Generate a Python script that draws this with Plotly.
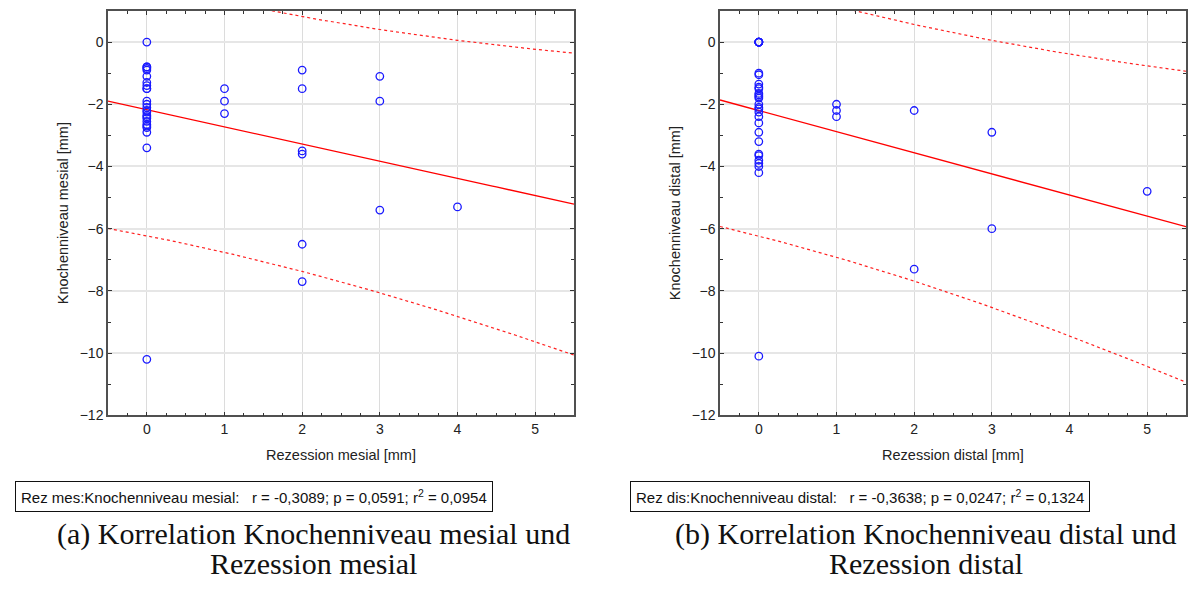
import numpy as np
import plotly.graph_objects as go

# ---------------- data ----------------
# (a) mesial
mes_x0_vals = [0, -0.8, -0.8, -0.85, -0.9, -1.1, -1.3, -1.4, -1.5, -1.5,
               -1.9, -2.0, -2.1, -2.2, -2.25, -2.35, -2.4, -2.45, -2.55, -2.65,
               -2.7, -2.75, -2.9, -3.4, -10.2]
mes_x1_vals = [-1.5, -1.9, -2.3]
mes_x2_vals = [-0.9, -1.5, -3.5, -3.6, -6.5, -7.7]
mes_x3_vals = [-1.1, -1.9, -5.4]
mes_x4_vals = [-5.3]

# (b) distal
dis_x0_vals = [0, 0, 0, 0, 0, 0, -1.0, -1.05, -1.35, -1.45, -1.5, -1.65, -1.7,
               -1.75, -1.8, -2.0, -2.1, -2.15, -2.25, -2.4, -2.6, -2.9, -3.2,
               -3.6, -3.65, -3.8, -3.9, -4.0, -4.2, -10.1]
dis_x1_vals = [-2.0, -2.2, -2.4]
dis_x2_vals = [-2.2, -7.3]
dis_x3_vals = [-2.9, -6.0]
dis_x5_vals = [-4.8]

x_ticks = [0, 1, 2, 3, 4, 5]
y_ticks = [0, -2, -4, -6, -8, -10, -12]

stats_a = "Rez mes:Knochenniveau mesial:\u00a0\u00a0\u00a0r = -0,3089; p = 0,0591; r<sup>2</sup> = 0,0954"
stats_b = "Rez dis:Knochenniveau distal:\u00a0\u00a0\u00a0r = -0,3638; p = 0,0247; r<sup>2</sup> = 0,1324"
caption_a = ["(a) Korrelation Knochenniveau mesial und", "Rezession mesial"]
caption_b = ["(b) Korrelation Knochenniveau distal und", "Rezession distal"]

T_975_DF36 = 2.028  # t quantile for the 95% prediction band


def build(groups):
    xs, ys = [], []
    for xv, vals in groups:
        xs += [xv] * len(vals)
        ys += vals
    return np.array(xs, float), np.array(ys, float)


mes_x, mes_y = build([(0, mes_x0_vals), (1, mes_x1_vals), (2, mes_x2_vals),
                      (3, mes_x3_vals), (4, mes_x4_vals)])
dis_x, dis_y = build([(0, dis_x0_vals), (1, dis_x1_vals), (2, dis_x2_vals),
                      (3, dis_x3_vals), (5, dis_x5_vals)])


def fit_band(x, y, grid):
    n = len(x)
    b, a = np.polyfit(x, y, 1)
    resid = y - (a + b * x)
    s = np.sqrt(np.sum(resid ** 2) / (n - 2))
    xbar = x.mean()
    sxx = np.sum((x - xbar) ** 2)
    yhat = a + b * grid
    half = T_975_DF36 * s * np.sqrt(1 + 1 / n + (grid - xbar) ** 2 / sxx)
    return yhat, yhat - half, yhat + half


grid = np.linspace(-0.5, 5.5, 121)

# the page body has an 8px margin; the figure fills the rest of the window
W, H = 1190, 582
OFF = 8


def px(x):
    return (x - OFF) / W


def py(y):
    return 1 - (y - OFF) / H


fig = go.Figure()

sans = "Liberation Sans, Arial, sans-serif"
tick_font = dict(family=sans, size=14, color="#222")

for i, (x, y) in enumerate([(mes_x, mes_y), (dis_x, dis_y)]):
    xa = "x" if i == 0 else "x2"
    ya = "y" if i == 0 else "y2"
    yhat, lo, hi = fit_band(x, y, grid)
    for band in (lo, hi):
        fig.add_trace(go.Scatter(x=grid, y=band, mode="lines", xaxis=xa, yaxis=ya,
                                 line=dict(color="#ff2020", width=1.2, dash="dot"),
                                 showlegend=False, hoverinfo="skip"))
    fig.add_trace(go.Scatter(x=grid, y=yhat, mode="lines", xaxis=xa, yaxis=ya,
                             line=dict(color="#ff0000", width=1.3),
                             showlegend=False, hoverinfo="skip"))
    fig.add_trace(go.Scatter(x=x, y=y, mode="markers", xaxis=xa, yaxis=ya,
                             marker=dict(symbol="circle-open", size=7.5,
                                         color="#1a1aff", line=dict(width=1.3)),
                             showlegend=False))

ax_common = dict(
    showline=True, linecolor="#505050", linewidth=1.5, mirror="ticks",
    ticks="inside", ticklen=4, tickcolor="#333", tickwidth=1,
    tickfont=tick_font, zeroline=False, showgrid=True,
)

x_dom = [[px(108), px(574)], [px(720), px(1186)]]
y_dom = [py(421), py(11)]
xtitles = ["Rezession mesial [mm]", "Rezession distal [mm]"]
ytitles = ["Knochenniveau mesial [mm]", "Knochenniveau distal [mm]"]

layout = dict(
    width=W, height=H, margin=dict(l=0, r=0, t=0, b=0),
    plot_bgcolor="white", paper_bgcolor="white", showlegend=False,
)
for i in range(2):
    sx = "xaxis" if i == 0 else "xaxis2"
    sy = "yaxis" if i == 0 else "yaxis2"
    layout[sx] = dict(
        ax_common, domain=x_dom[i], range=[-0.5, 5.5],
        tickvals=x_ticks, gridcolor="#dcdcdc", gridwidth=1,
        minor=dict(dtick=0.25, tick0=0, ticks="inside", ticklen=3,
                   tickcolor="#333", showgrid=False),
        anchor="y" if i == 0 else "y2",
        title=dict(text=xtitles[i], font=dict(family=sans, size=14.5, color="#222"),
                   standoff=14),
    )
    layout[sy] = dict(
        ax_common, domain=y_dom, range=[-12, 1],
        tickvals=y_ticks, gridcolor="#e6e6e6", gridwidth=2,
        minor=dict(dtick=1, tick0=0, ticks="inside", ticklen=3,
                   tickcolor="#333", showgrid=False),
        anchor="x" if i == 0 else "x2",
        title=dict(text=ytitles[i], font=dict(family=sans, size=14.5, color="#222"),
                   standoff=8),
    )

fig.update_layout(**layout)

box_font = dict(family=sans, size=15, color="#111")
for cx, txt in [(254, stats_a), (860, stats_b)]:
    fig.add_annotation(x=px(cx), y=py(503), xref="paper", yref="paper",
                       text=txt, showarrow=False, font=box_font,
                       bordercolor="#111", borderwidth=1, borderpad=5,
                       bgcolor="white", xanchor="center", yanchor="middle")

cap_font = dict(family="Liberation Serif, DejaVu Serif, serif", size=30, color="#111")
for cx, lines in [(313, caption_a), (926, caption_b)]:
    for cy, line in zip([541, 571], lines):
        fig.add_annotation(x=px(cx), y=py(cy), xref="paper", yref="paper",
                           text=line, showarrow=False, font=cap_font, borderpad=0,
                           xanchor="center", yanchor="middle", align="center")

fig.write_html("out.html")
